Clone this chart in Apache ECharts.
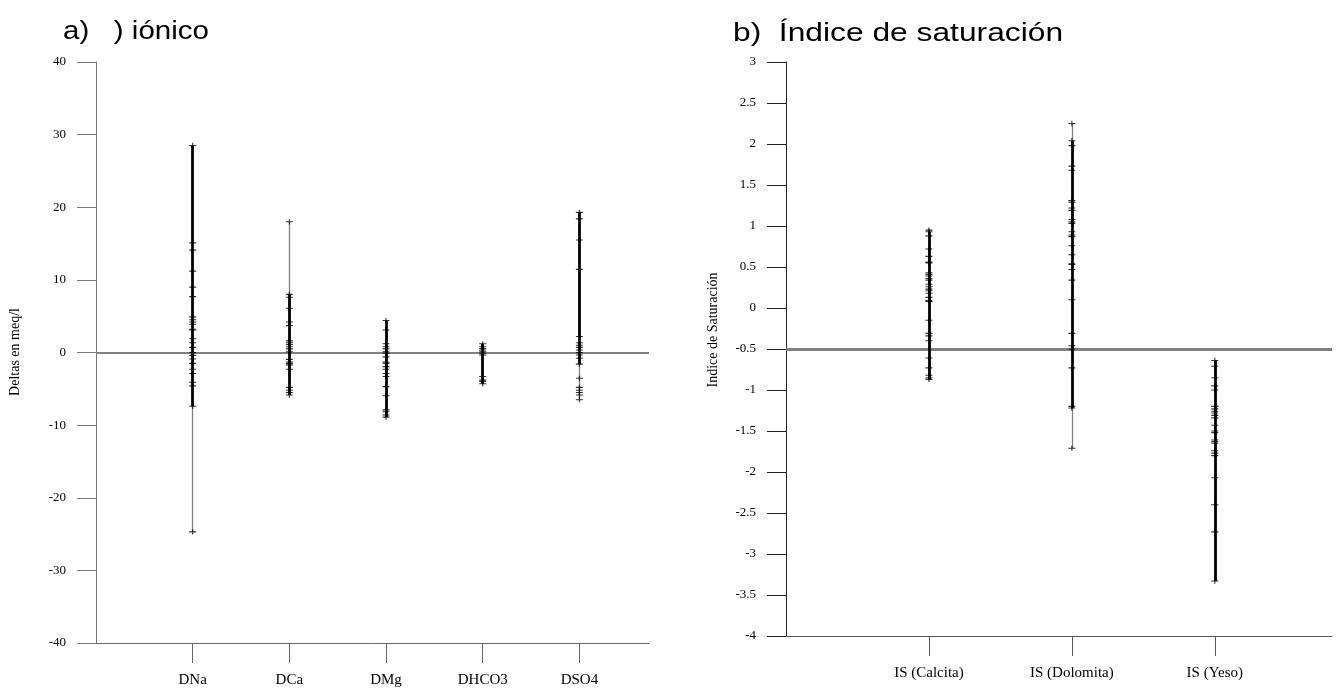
<!DOCTYPE html>
<html><head><meta charset="utf-8">
<script src="https://cdn.jsdelivr.net/npm/echarts@6/dist/echarts.min.js"></script>
<style>html,body{margin:0;padding:0;background:#fff}#c{width:1343px;height:688px}</style>
</head><body><div id="c"></div>
<script>
// ---- data (values in sample order) ----
const ionCategories = ['DNa', 'DCa', 'DMg', 'DHCO3', 'DSO4'];
const ionYTicks = [-40, -30, -20, -10, 0, 10, 20, 30, 40];
const DNa = [3.1, 28.5, -7.4, 15.1, 14.1, 11.2, 9.0, 7.7, 4.9, 4.5, 4.2, 3.9, 3.2, 1.9, 1.35, 0.7, 0.0, -0.4, -0.9, -1.5, -2.3, -2.9, -4.1, -4.6, -24.7];
const DCa = [8.0, -5.85, 7.6, 6.1, 4.2, 3.7, 1.6, 1.35, 1.1, 0.8, 0.5, 0.1, -0.95, -1.3, -1.5, -1.7, -2.3, -4.8, -5.2, -5.5, 18.0];
const DMg = [0.1, 4.4, -8.9, 3.1, 1.2, 0.8, 0.5, -0.1, -0.6, -1.3, -1.5, -1.95, -2.3, -2.9, -3.3, -4.7, -5.95, -7.9, -8.15, -8.6];
const DHCO3 = [0.1, 1.2, -4.3, 0.8, 0.55, 0.35, -0.1, -0.35, -3.3, -3.8, -4.0];
const DSO4 = [11.45, 19.3, 18.4, -1.6, 15.5, 2.2, 1.35, 1.0, 0.7, 0.35, 0.0, -0.35, -0.8, -3.55, -4.8, -5.2, -5.5, -5.85, -6.5];
const ionRefValue = 0;

const satCategories = ['IS (Calcita)', 'IS (Dolomita)', 'IS (Yeso)'];
const satYTicks = [-4, -3.5, -3, -2.5, -2, -1.5, -1, -0.5, 0, 0.5, 1, 1.5, 2, 2.5, 3];
const ISCalcita = [0.95, -0.87, 0.93, 0.88, 0.72, 0.63, 0.56, 0.55, 0.43, 0.41, 0.39, 0.36, 0.34, 0.29, 0.26, 0.23, 0.21, 0.18, 0.13, 0.09, 0.08, -0.15, -0.31, -0.34, -0.40, -0.61, -0.73, -0.82, -0.85];
const ISDolomita = [2.25, -1.22, 2.04, 1.98, 1.73, 1.68, 1.31, 1.29, 1.22, 1.19, 1.08, 1.05, 1.03, 0.93, 0.89, 0.87, 0.76, 0.65, 0.54, 0.53, 0.47, 0.34, 0.10, -0.31, -0.46, -0.50, -0.73, -1.20, -1.71];
const ISYeso = [-1.0, -0.64, -3.33, -0.71, -0.85, -0.95, -1.20, -1.23, -1.26, -1.28, -1.31, -1.34, -1.43, -1.50, -1.52, -1.61, -1.63, -1.65, -1.74, -1.77, -1.80, -2.07, -2.40, -2.73];
const satRefValue = -0.5;

const ionSeries = [DNa, DCa, DMg, DHCO3, DSO4];
const satSeries = [ISCalcita, ISDolomita, ISYeso];

// ---- helpers ----
function segmentsFor(x, vals) {
  const sorted = Array.from(new Set(vals)).sort((a, b) => a - b);
  const cov = new Array(sorted.length - 1).fill(0);
  for (let i = 0; i < vals.length - 1; i++) {
    const lo = Math.min(vals[i], vals[i + 1]), hi = Math.max(vals[i], vals[i + 1]);
    for (let k = 0; k < sorted.length - 1; k++) {
      if (sorted[k] >= lo && sorted[k + 1] <= hi) cov[k]++;
    }
  }
  const cls = c => (c >= 2 ? 2 : 1);
  const out = [];
  let start = 0;
  for (let k = 1; k <= cov.length; k++) {
    if (k === cov.length || cls(cov[k]) !== cls(cov[start])) {
      const thick = cls(cov[start]) === 2;
      out.push({
        coords: [[x, sorted[start]], [x, sorted[k]]],
        lineStyle: thick ? { color: '#000', width: 2.8, opacity: 1 } : { color: '#7f7f7f', width: 1.3, opacity: 1 }
      });
      start = k;
    }
  }
  return out;
}
const plus = 'path://M0 2.1h7v1.1H0z M2.95 0h1.1v5.3H2.95z';

const series = [];
function addColumns(arr, gi) {
  arr.forEach((vals, i) => {
    const x = i + 1;
    series.push({
      type: 'lines', coordinateSystem: 'cartesian2d', xAxisIndex: gi, yAxisIndex: gi,
      silent: true, z: 3, data: segmentsFor(x, vals)
    });
    series.push({
      type: 'scatter', xAxisIndex: gi, yAxisIndex: gi, silent: true, z: 4,
      symbol: plus, symbolSize: [7, 5.3], itemStyle: { color: '#000' },
      data: vals.map(v => [x, v])
    });
  });
}
addColumns(ionSeries, 0);
addColumns(satSeries, 1);

// reference lines
series.push({
  type: 'line', xAxisIndex: 0, yAxisIndex: 0, data: [], silent: true,
  markLine: { silent: true, symbol: 'none', z: 1, label: { show: false },
    lineStyle: { color: '#808080', width: 2, type: 'solid' }, data: [{ yAxis: ionRefValue }] }
});
series.push({
  type: 'line', xAxisIndex: 1, yAxisIndex: 1, data: [], silent: true,
  markLine: { silent: true, symbol: 'none', z: 1, label: { show: false },
    lineStyle: { color: '#808080', width: 3, type: 'solid' }, data: [{ yAxis: satRefValue }] }
});

const serif = 'Liberation Serif';
const tickLabel = { color: '#000', fontFamily: serif, fontSize: 13 };

function xAxisFor(gi, cats, max, color) {
  const vals = cats.map((c, i) => i + 1);
  return {
    type: 'value', gridIndex: gi, min: 0, max: max,
    axisLine: { show: true, onZero: false, lineStyle: { color: color, width: 1 } },
    axisTick: { show: true, length: 20, customValues: vals, lineStyle: { color: color, width: 1 } },
    axisLabel: { customValues: vals, formatter: v => cats[Math.round(v) - 1] || '', margin: 30,
      color: '#000', fontFamily: serif, fontSize: 15 },
    splitLine: { show: false }
  };
}
function yAxisFor(gi, ticks, color) {
  return {
    type: 'value', gridIndex: gi, min: ticks[0], max: ticks[ticks.length - 1],
    interval: ticks[1] - ticks[0],
    axisLine: { show: true, onZero: false, lineStyle: { color: color, width: 1 } },
    axisTick: { show: true, length: 19, lineStyle: { color: color, width: 1 } },
    axisLabel: Object.assign({ margin: 30 }, tickLabel),
    splitLine: { show: false }
  };
}

const chart = echarts.init(document.getElementById('c'), null, { renderer: 'canvas' });
chart.setOption({
  animation: false,
  backgroundColor: '#fff',
  grid: [
    { left: 96, top: 62, width: 553, height: 581 },
    { left: 786, top: 62, width: 546, height: 574 }
  ],
  xAxis: [xAxisFor(0, ionCategories, 5.72, '#666'), xAxisFor(1, satCategories, 3.82, '#555')],
  yAxis: [yAxisFor(0, ionYTicks, '#777'), yAxisFor(1, satYTicks, '#222')],
  graphic: [
    { type: 'text', x: 63, y: 20, scaleX: 1.18,
      style: { text: 'a)   ) iónico', font: '25px "Liberation Sans"', fill: '#000', verticalAlign: 'top' } },
    { type: 'text', x: 733, y: 22, scaleX: 1.27,
      style: { text: 'b)  Índice de saturación', font: '25px "Liberation Sans"', fill: '#000', verticalAlign: 'top' } },
    { type: 'text', x: 15, y: 352, rotation: Math.PI / 2,
      style: { text: 'Deltas en meq/l', font: '14px "Liberation Serif"', fill: '#000', align: 'center', verticalAlign: 'middle' } },
    { type: 'text', x: 713, y: 330, rotation: Math.PI / 2,
      style: { text: 'Indice de Saturación', font: '14px "Liberation Serif"', fill: '#000', align: 'center', verticalAlign: 'middle' } }
  ],
  series: series
});
</script>
</body></html>
